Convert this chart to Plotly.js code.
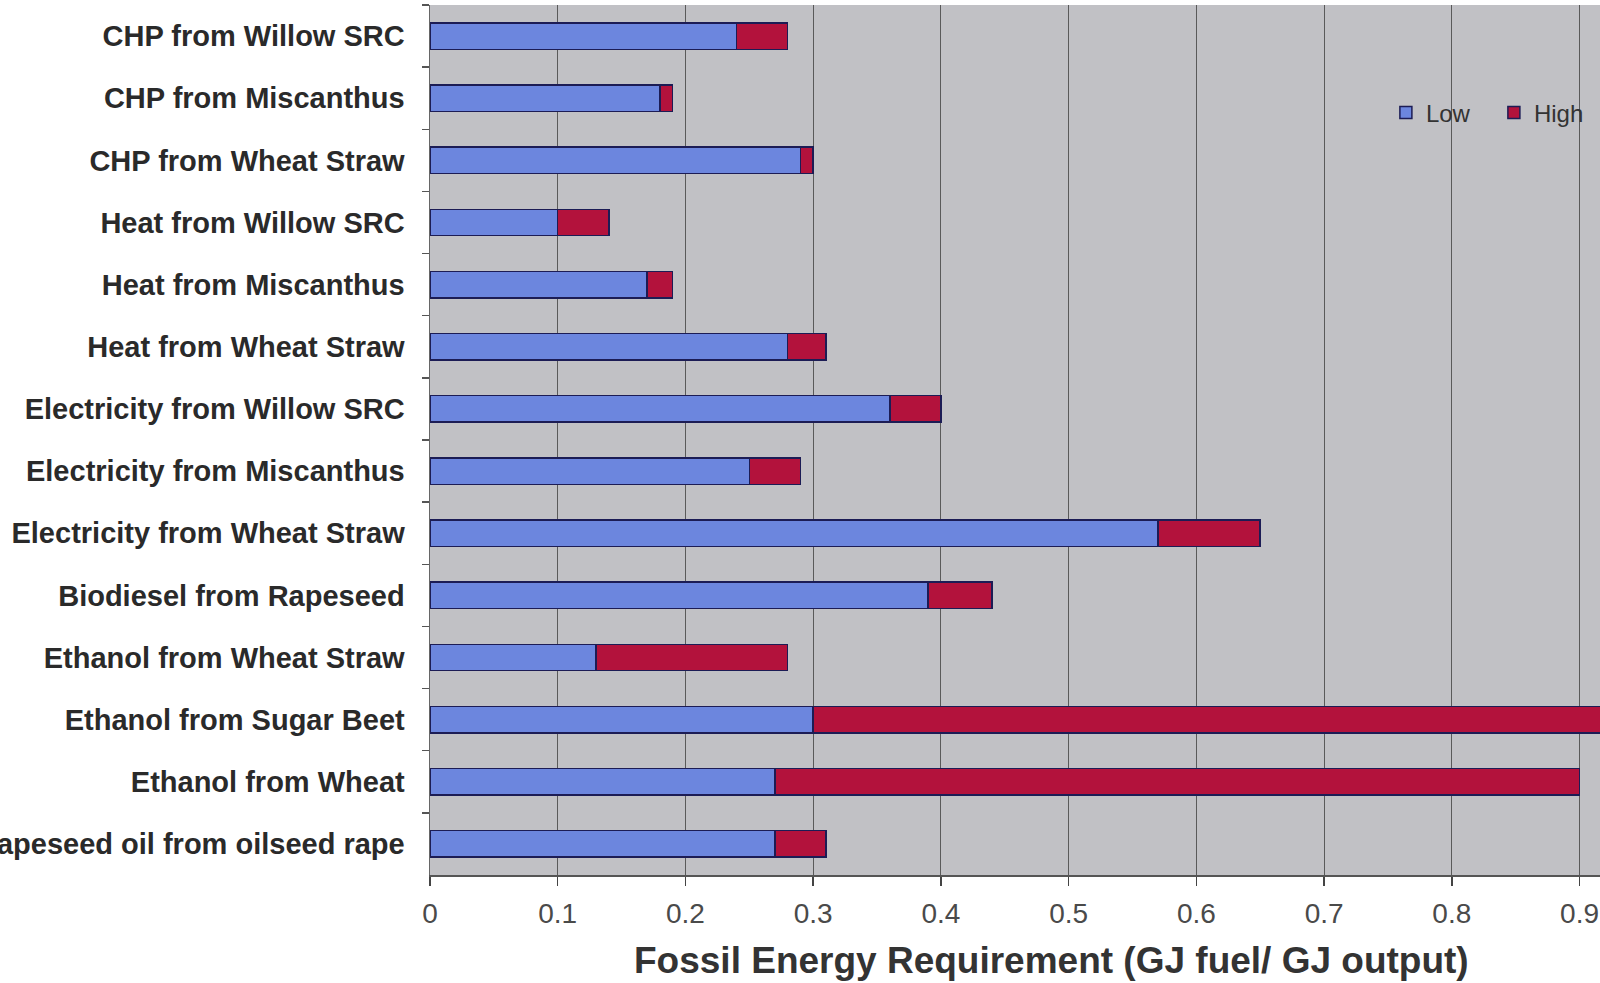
<!DOCTYPE html>
<html>
<head>
<meta charset="utf-8">
<script src="https://cdn.plot.ly/plotly-3.0.1.min.js"></script>
<style>
html,body{margin:0;padding:0;background:#fff;}
#chart{width:1600px;height:983px;}
</style>
</head>
<body>
<div id="chart"></div>
<script>
var categories = [
  "CHP from Willow SRC",
  "CHP from Miscanthus",
  "CHP from Wheat Straw",
  "Heat from Willow SRC",
  "Heat from Miscanthus",
  "Heat from Wheat Straw",
  "Electricity from Willow SRC",
  "Electricity from Miscanthus",
  "Electricity from Wheat Straw",
  "Biodiesel from Rapeseed",
  "Ethanol from Wheat Straw",
  "Ethanol from Sugar Beet",
  "Ethanol from Wheat",
  "Rapeseed oil from oilseed rape"
];
// "Low" segment values
var lowValues  = [0.24, 0.18, 0.29, 0.10, 0.17, 0.28, 0.36, 0.25, 0.57, 0.39, 0.13, 0.30, 0.27, 0.27];
// "High" segment (stacked on top of Low)
var highValues = [0.04, 0.01, 0.01, 0.04, 0.02, 0.03, 0.04, 0.04, 0.08, 0.05, 0.15, 0.65, 0.63, 0.04];
var xTickValues = [0, 0.1, 0.2, 0.3, 0.4, 0.5, 0.6, 0.7, 0.8, 0.9];
var xTickLabels = ["0", "0.1", "0.2", "0.3", "0.4", "0.5", "0.6", "0.7", "0.8", "0.9"];

var outline = {color: "#1c1c55", width: 1.5};
var traces = [
  {type: "bar", orientation: "h", name: "Low", y: categories, x: lowValues,
   marker: {color: "#6c86de", line: outline}, hoverinfo: "x+y"},
  {type: "bar", orientation: "h", name: "High", y: categories, x: highValues,
   marker: {color: "#b3123c", line: outline}, hoverinfo: "x+y"}
];

var layout = {
  width: 1600, height: 983,
  margin: {l: 430, r: 0, t: 5, b: 108, autoexpand: false},
  barmode: "stack",
  bargap: 0.575,
  paper_bgcolor: "#ffffff",
  plot_bgcolor: "#c1c1c5",
  font: {family: "Liberation Sans, Arial, sans-serif", color: "#333"},
  xaxis: {
    range: [0, 0.916],
    tickvals: xTickValues, ticktext: xTickLabels,
    showgrid: true, gridcolor: "#5a5a5a", gridwidth: 1,
    zeroline: false,
    showline: true, linecolor: "#555", linewidth: 1.5,
    ticks: "outside", ticklen: 9, tickcolor: "#444", tickwidth: 1.5,
    tickfont: {size: 28, color: "#4a4a4a", family: "Liberation Sans, Arial, sans-serif"},
    ticklabelstandoff: 4
  },
  yaxis: {
    type: "category",
    autorange: "reversed",
    showgrid: false, zeroline: false,
    showline: true, linecolor: "#666", linewidth: 1.5,
    ticks: "outside", tickson: "boundaries", ticklen: 7, tickcolor: "#555", tickwidth: 1.5,
    tickfont: {size: 29, color: "#2a2a2a", family: "Liberation Sans, Arial, sans-serif", weight: "bold"},
    ticklabelstandoff: 18
  },
  legend: {
    orientation: "h",
    x: 0.817, xanchor: "left",
    y: 0.876, yanchor: "middle",
    bgcolor: "rgba(0,0,0,0)",
    font: {size: 24, color: "#333"},
    traceorder: "normal",
    itemwidth: 30,
    entrywidth: 63
  },
  annotations: [{
    text: "Fossil Energy Requirement (GJ fuel/ GJ output)",
    xref: "paper", yref: "paper",
    x: 0.531, y: -0.098, xanchor: "center", yanchor: "middle",
    showarrow: false,
    font: {size: 37, color: "#333", family: "Liberation Sans, Arial, sans-serif", weight: "bold"}
  }],
  showlegend: true
};

Plotly.newPlot("chart", traces, layout, {displayModeBar: false, staticPlot: true});
</script>
</body>
</html>
